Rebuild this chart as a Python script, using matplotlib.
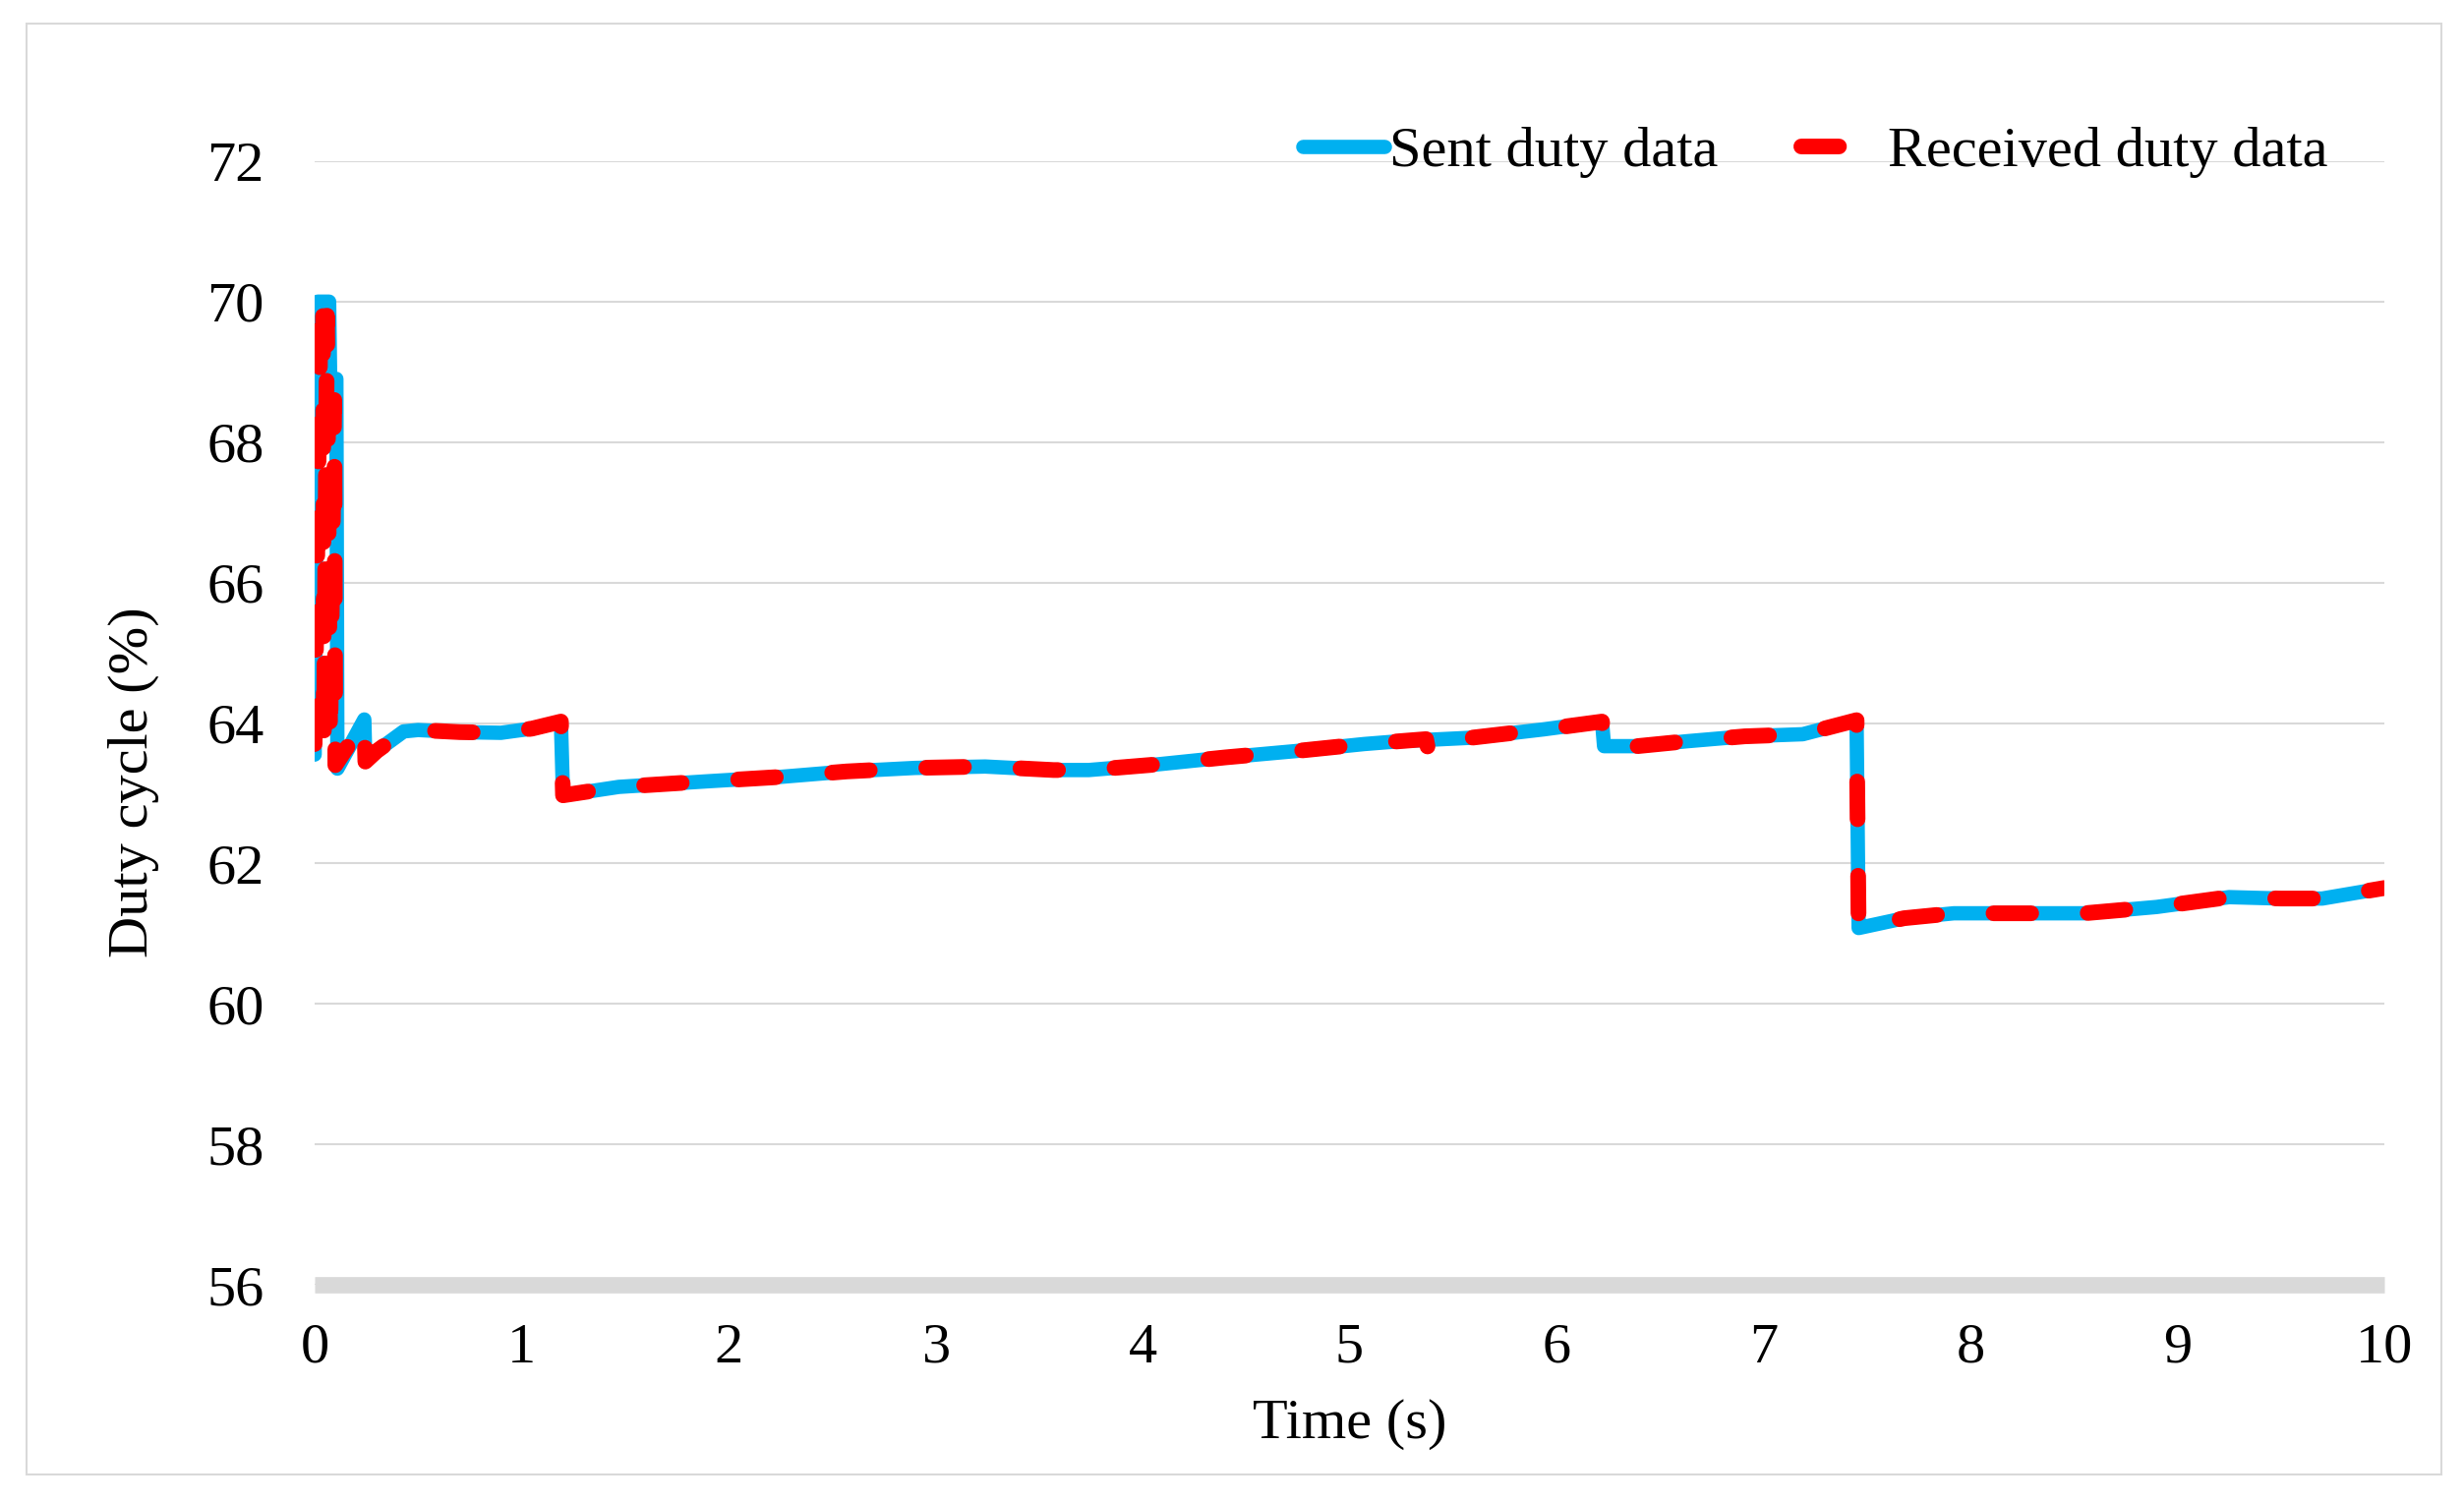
import matplotlib
matplotlib.use('Agg')
import matplotlib.pyplot as plt
from matplotlib.patches import Rectangle

plt.rcParams['font.family'] = ['Liberation Serif', 'DejaVu Serif']

# Sent duty data (time in s, duty cycle in %)
t_sent = [0.0, 0.015, 0.07, 0.075, 0.105, 0.11, 0.24, 0.245, 0.30, 0.43, 0.50, 0.70, 0.90,
          1.05, 1.19, 1.20, 1.47, 1.90, 2.24, 2.57, 2.90, 3.24, 3.57, 3.74, 4.07, 4.40,
          4.74, 5.07, 5.24, 5.59, 5.94, 6.22, 6.23, 6.39, 6.63, 6.91, 7.19, 7.45, 7.46,
          7.68, 7.92, 8.38, 8.55, 8.90, 9.25, 9.50, 9.70, 10.0]
v_sent = [63.55, 70.0, 70.0, 68.9, 68.9, 63.35, 64.05, 63.45, 63.6, 63.88, 63.9, 63.87, 63.86,
          63.92, 64.02, 62.97, 63.09, 63.17, 63.23, 63.31, 63.36, 63.38, 63.33, 63.33, 63.41, 63.51,
          63.60, 63.70, 63.74, 63.79, 63.91, 64.02, 63.67, 63.67, 63.74, 63.81, 63.84, 64.04, 61.08,
          61.22, 61.29, 61.29, 61.29, 61.38, 61.52, 61.50, 61.50, 61.65]

# Received duty data
t_recv = [0.0, 0.03, 0.04, 0.045, 0.06, 0.075, 0.095, 0.10, 0.24, 0.245, 0.30, 0.43, 0.50, 0.70, 0.90,
          1.05, 1.19, 1.20, 1.47, 1.90, 2.24, 2.57, 2.90, 3.24, 3.57, 3.74, 4.07, 4.40,
          4.74, 5.07, 5.24, 5.37, 5.38, 5.39, 5.59, 5.94, 6.22, 6.23, 6.39, 6.63, 6.91, 7.19, 7.45, 7.46,
          7.68, 7.92, 8.38, 8.55, 8.90, 9.25, 9.50, 9.70, 10.0]
v_recv = [63.7, 70.1, 69.9, 63.7, 69.8, 63.7, 68.6, 63.4, 64.02, 63.45, 63.6, 63.88, 63.9, 63.87, 63.86,
          63.92, 64.02, 62.97, 63.09, 63.17, 63.23, 63.31, 63.36, 63.38, 63.33, 63.33, 63.41, 63.51,
          63.60, 63.70, 63.74, 63.77, 63.62, 63.77, 63.79, 63.91, 64.02, 63.67, 63.67, 63.74, 63.81, 63.84, 64.04, 61.08,
          61.22, 61.29, 61.29, 61.29, 61.38, 61.52, 61.50, 61.50, 61.65]

y_ticks = [56, 58, 60, 62, 64, 66, 68, 70, 72]
x_ticks = list(range(0, 11))

W, H = 2506, 1528
fig = plt.figure(figsize=(W / 100, H / 100), dpi=100)
ax = fig.add_axes([320 / W, 1 - 1307 / H, 2105 / W, 1143 / H])

# light chart-area border
fig.patches.append(Rectangle((27 / W, 1 - 1500 / H), 2456 / W, 1476 / H,
                             transform=fig.transFigure, fill=False,
                             edgecolor='#d9d9d9', linewidth=1.5))

ax.plot(t_sent, v_sent, color='#00b0f0', lw=10.5, solid_joinstyle='round',
        solid_capstyle='round', label='Sent duty data', zorder=3)
ax.plot(t_recv, v_recv, color='#ff0000', lw=11.5, linestyle=(0, (2.4, 3.6)),
        dash_capstyle='round', dash_joinstyle='round', label='Received duty data', zorder=4)

ax.set_xlim(0, 10)
ax.set_ylim(56, 72)
ax.set_xticks(x_ticks)
ax.set_yticks(y_ticks)
ax.yaxis.grid(True, color='#d9d9d9', lw=1.5)
ax.set_axisbelow(True)
for s in ['top', 'right', 'left']:
    ax.spines[s].set_visible(False)
ax.spines['bottom'].set_color('#d9d9d9')
ax.spines['bottom'].set_linewidth(12)
ax.spines['bottom'].set_capstyle('butt')
ax.tick_params(axis='both', length=0, labelsize=42)
ax.tick_params(axis='x', pad=28)
ax.tick_params(axis='y', pad=37)

ax.set_xlabel('Time (s)', fontsize=42, va='center')
ax.xaxis.set_label_coords(0.5, -0.1243)
ax.set_ylabel('Duty cycle (%)', fontsize=42, va='center')
ax.yaxis.set_label_coords(-0.0875, 0.4475)

leg = ax.legend(loc='center right', bbox_to_anchor=(2368 / W, 1 - 155 / H),
                bbox_transform=fig.transFigure, ncol=2, frameon=False, fontsize=42,
                handlelength=1.43, handletextpad=0.08, columnspacing=1.46,
                borderpad=0, borderaxespad=0)

fig.savefig('out.png', dpi=100)
